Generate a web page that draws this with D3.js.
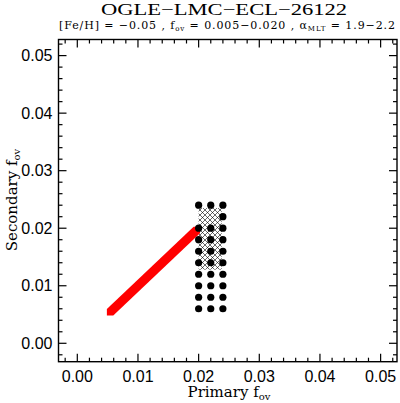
<!DOCTYPE html>
<html><head><meta charset="utf-8">
<script src="https://cdn.jsdelivr.net/npm/d3@7"></script>
<style>body{margin:0;background:#fff}svg{display:block}</style>
</head><body>
<svg id="c" width="400" height="403"></svg>
<script>
// ---- data ----
const titleText = "OGLE\u2212LMC\u2212ECL\u221226122";
const xDomain = [-0.0031, 0.0527];
const yDomain = [-0.0032, 0.0528];
const majorTicks = [0.00, 0.01, 0.02, 0.03, 0.04, 0.05];
const tickLabels = ["0.00", "0.01", "0.02", "0.03", "0.04", "0.05"];
const minorTicks = [-0.002,0.002,0.004,0.006,0.008,0.012,0.014,0.016,0.018,0.022,0.024,0.026,0.028,0.032,0.034,0.036,0.038,0.042,0.044,0.046,0.048,0.052];
// model grid points (primary f_ov, secondary f_ov)
const modelPrimary = [
  0.020,0.022,0.024, 0.024, 0.020,0.022,0.024, 0.020,0.022,0.024, 0.020,0.022,0.024,
  0.020,0.022,0.024, 0.020,0.022,0.024, 0.020,0.022,0.024, 0.020,0.022,0.024, 0.020,0.022,0.024];
const modelSecondary = [
  0.024,0.024,0.024, 0.022, 0.020,0.020,0.020, 0.018,0.018,0.018, 0.016,0.016,0.016,
  0.014,0.014,0.014, 0.012,0.012,0.012, 0.010,0.010,0.010, 0.008,0.008,0.008, 0.006,0.006,0.006];
// best-fit region (hatched)
const regionPrimary = [0.0200, 0.0238];
const regionSecondary = [0.0128, 0.0235];
// equal-overshoot track (red)
const trackPrimary = [0.0054, 0.0197];
const trackSecondary = [0.0054, 0.0197];

// ---- layout ----
const L = 58.5, R = 397, T = 39.5, B = 361.7;
const svg = d3.select("#c");
const x = d3.scaleLinear().domain(xDomain).range([L, R]);
const y = d3.scaleLinear().domain(yDomain).range([B, T]);

// hatch pattern
const defs = svg.append("defs");
const pat = defs.append("pattern").attr("id","hatch").attr("patternUnits","userSpaceOnUse")
  .attr("width",5).attr("height",5);
pat.append("path").attr("d","M0,0L5,5M0,5L5,0M-1,1L1,-1M4,6L6,4M-1,4L1,6M4,-1L6,1")
  .attr("stroke","#000").attr("stroke-width",0.6).attr("fill","none");

svg.append("rect")
  .attr("x", x(regionPrimary[0])).attr("y", y(regionSecondary[1]))
  .attr("width", x(regionPrimary[1]) - x(regionPrimary[0]))
  .attr("height", y(regionSecondary[0]) - y(regionSecondary[1]))
  .attr("fill","url(#hatch)");

// red track, drawn as an axis-aligned square pen swept along the segment
const h = 3.2;
const X0 = x(trackPrimary[0]), Y0 = y(trackSecondary[0]);
const X1 = x(trackPrimary[1]), Y1 = y(trackSecondary[1]);
svg.append("path")
  .attr("d", d3.line()([[X0-h,Y0-h],[X0-h,Y0+h],[X0+h,Y0+h],[X1+h,Y1+h],[X1+h,Y1-h],[X1-h,Y1-h]]) + "Z")
  .attr("fill","#ff0000");

// model dots
svg.append("g").selectAll("circle").data(d3.range(modelPrimary.length)).join("circle")
  .attr("cx", i => x(modelPrimary[i])).attr("cy", i => y(modelSecondary[i]))
  .attr("r", 3.6).attr("fill","#000");

// frame
svg.append("rect").attr("x",L).attr("y",T).attr("width",R-L).attr("height",B-T)
  .attr("fill","none").attr("stroke","#000").attr("stroke-width",1.4);

// ticks
const tk = svg.append("g").attr("stroke","#000").attr("stroke-width",1.2);
function ticks(vals, len){
  vals.forEach(v=>{
    tk.append("line").attr("x1",x(v)).attr("x2",x(v)).attr("y1",B).attr("y2",B-len);
    tk.append("line").attr("x1",x(v)).attr("x2",x(v)).attr("y1",T).attr("y2",T+len);
    tk.append("line").attr("y1",y(v)).attr("y2",y(v)).attr("x1",L).attr("x2",L+len);
    tk.append("line").attr("y1",y(v)).attr("y2",y(v)).attr("x1",R).attr("x2",R-len);
  });
}
ticks(majorTicks, 8);
ticks(minorTicks, 4);

// tick labels
const lab = svg.append("g").attr("font-family","Liberation Sans, Arial, sans-serif").attr("font-size",16).attr("fill","#000");
majorTicks.forEach((v,i)=>{
  lab.append("text").attr("x",x(v)).attr("y",B+20).attr("text-anchor","middle").text(tickLabels[i]);
  lab.append("text").attr("x",L-6).attr("y",y(v)+5.5).attr("text-anchor","end").text(tickLabels[i]);
});

// titles
svg.append("text").attr("x",224).attr("y",14.5).attr("text-anchor","middle")
  .attr("font-family","Liberation Serif, serif").attr("font-size",16)
  .attr("textLength",246).attr("lengthAdjust","spacingAndGlyphs").text(titleText);

const sub = svg.append("text").attr("x",227).attr("y",29).attr("text-anchor","middle")
  .attr("font-family","DejaVu Serif, serif").attr("font-size",11)
  .attr("textLength",336).attr("lengthAdjust","spacing");
sub.append("tspan").text("[Fe/H] = \u22120.05 , f");
sub.append("tspan").attr("font-size",7).attr("dy",2).text("ov");
sub.append("tspan").attr("dy",-2).text(" = 0.005\u22120.020 , \u03b1");
sub.append("tspan").attr("font-size",7).attr("dy",2).text("MLT");
sub.append("tspan").attr("dy",-2).text(" = 1.9\u22122.2");

const xl = svg.append("text").attr("x",229).attr("y",397).attr("text-anchor","middle")
  .attr("font-family","DejaVu Serif, serif").attr("font-size",15);
xl.append("tspan").text("Primary f");
xl.append("tspan").attr("font-size",10).attr("dy",3).text("ov");

const yl = svg.append("text").attr("transform","translate(17,200) rotate(-90)").attr("text-anchor","middle")
  .attr("font-family","DejaVu Serif, serif").attr("font-size",15);
yl.append("tspan").text("Secondary f");
yl.append("tspan").attr("font-size",10).attr("dy",3).text("ov");
</script>
</body></html>
